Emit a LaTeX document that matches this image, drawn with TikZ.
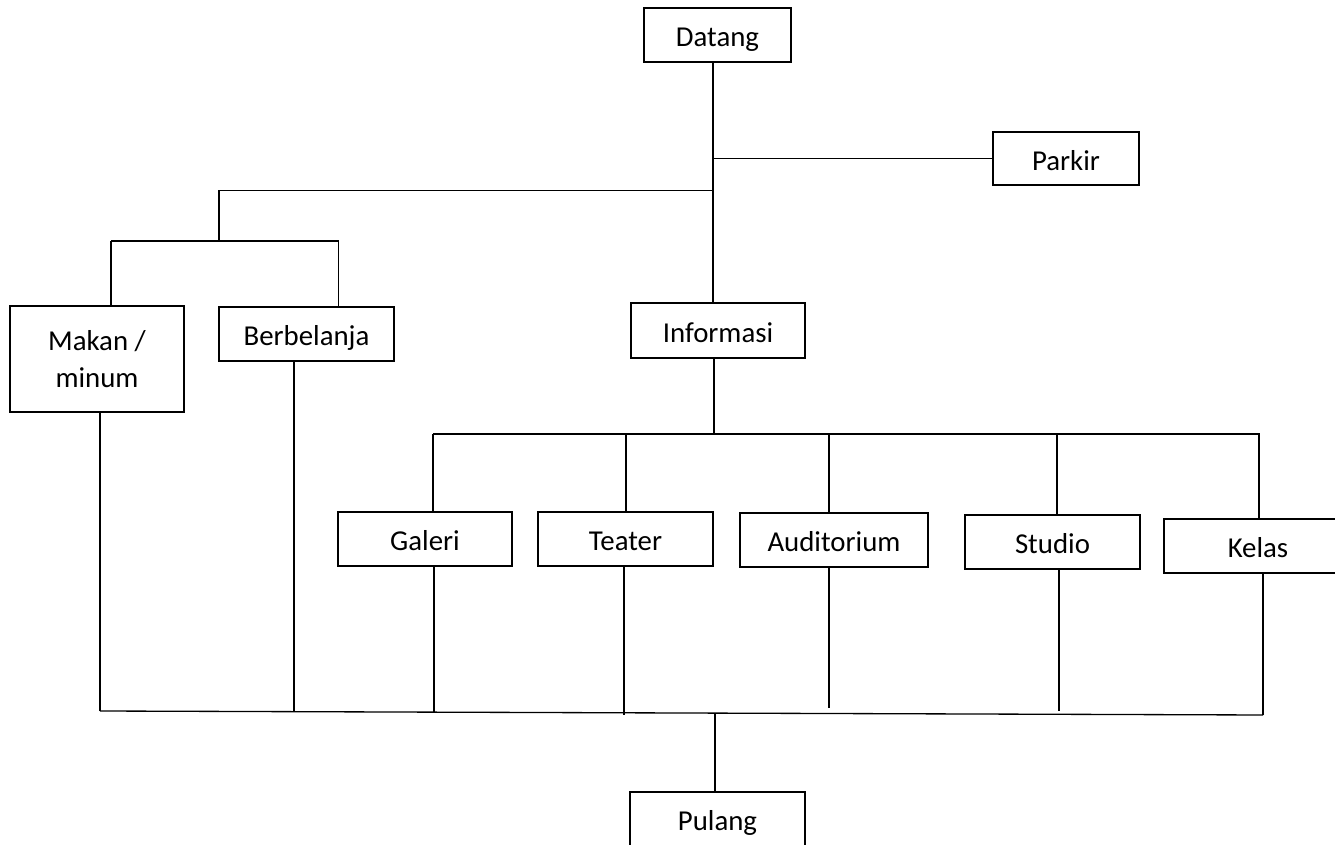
\documentclass[tikz,border=0pt]{standalone}
\usepackage{fontspec}
\setmainfont{Carlito}
\usepackage{tikz}
\def\boxh{1.08cm}
\def\busy{-8.68}

\begin{document}
\begin{tikzpicture}[draw=black, line width=0.75pt]
            \tikzstyle{frame}=[draw, rectangle, inner sep=0pt, minimum height=\boxh,
                               align=center, font=\fontsize{16.4}{21.5}\selectfont]
            \tikzstyle{place}=[frame, text height=13.6pt, text depth=0pt]
            \tikzstyle{room}=[place, minimum width=3.5cm]

            \useasboundingbox (0,0) rectangle (26.70,-16.90);

            % Entrance, parking and the two side places
            \node[place, minimum width=2.94cm] (datang) at (14.35,-0.70) {Datang};
            \node[place, minimum width=2.92cm, minimum height=1.06cm] (parkir) at (21.32,-3.17) {Parkir};
            \node[frame, minimum width=3.48cm, minimum height=2.12cm] (makan) at (1.94,-7.18) {Makan /\\minum};
            \node[place, minimum width=3.50cm] (belanja) at (6.13,-6.68) {Berbelanja};
            \node[place, minimum width=3.48cm, minimum height=1.10cm] (info) at (14.36,-6.61) {Informasi};

            % The rooms behind the information desk
            \node[room, minimum width=3.48cm] (galeri) at (8.50,-10.78) {Galeri};
            \node[room] (teater) at (12.51,-10.78) {Teater};
            \node[room, minimum width=3.76cm] (audit) at (16.68,-10.80) {Auditorium};
            \node[room] (studio) at (21.05,-10.84) {Studio};
            \node[room, minimum width=3.76cm] (kelas) at (25.16,-10.92) {Kelas};

            \node[room] (pulang) at (14.35,-16.38) {Pulang};

            % Junction points of the lines
            \coordinate (trunk) at (14.26,0);
            \coordinate (fork) at (14.26,-3.81);
            \coordinate (shopfork) at (4.38,-4.82);
            \coordinate (ml) at (2.22,-4.82);
            \coordinate (mr) at (6.77,-4.82);
            \coordinate (hub) at (14.28,\busy);
            \coordinate (busL) at (8.66,\busy);
            \coordinate (busR) at (25.20,\busy);
            \coordinate (exitL) at (2.00,-14.22);
            \coordinate (exitR) at (25.26,-14.30);
            \coordinate (out) at (14.30,-14.28);

            % Main line from the entrance down to the information desk
            \draw (datang.south -| trunk) -- (info.north -| trunk);
            \draw (parkir.west) -- (parkir.west -| trunk);
            \draw (fork) -| (shopfork);
            \draw (ml) -- (mr);
            \draw (ml) -- (ml |- makan.north);
            \draw (mr) -- (mr |- belanja.north);

            % Information desk to every room
            \draw (info.south -| hub) -- (hub);
            \draw (busL) -- (busR);
            \foreach \room / \x in {galeri/8.66, teater/12.52, audit/16.58, studio/21.14, kelas/25.18}
                \draw (\x,\busy) -- (\room.north -| \x,0);

            % Everything ends on the way out
            \foreach \room / \x / \yend in {makan/2.00/-14.22, belanja/5.88/-14.23, galeri/8.68/-14.24,
                                            teater/12.48/-14.30, audit/16.58/-14.16, studio/21.18/-14.22,
                                            kelas/25.26/-14.30}
                \draw (\room.south -| \x,0) -- (\x,\yend);
            \draw (exitL) -- (exitR);
            \draw (out) -- (pulang.north -| out);
        \end{tikzpicture}
\end{document}
